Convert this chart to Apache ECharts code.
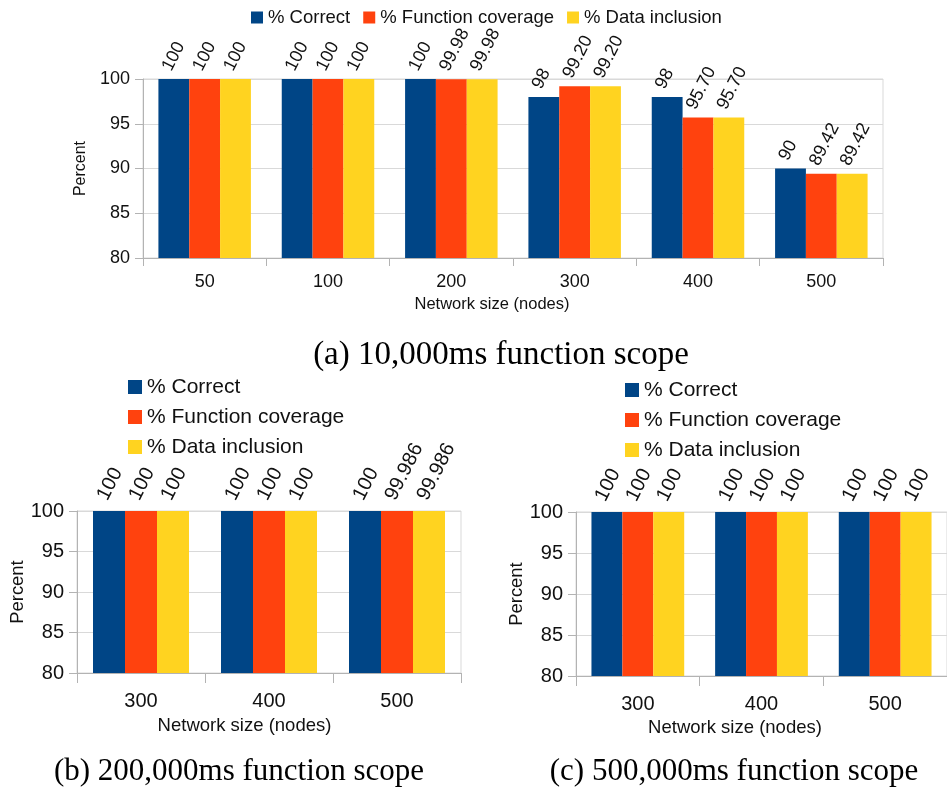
<!DOCTYPE html>
<html>
<head>
<meta charset="utf-8">
<style>
  html, body { margin: 0; padding: 0; background: #fff; }
  #chart { width: 947px; height: 787px; }
</style>
<script src="https://cdn.jsdelivr.net/npm/echarts@6/dist/echarts.min.js"></script>
</head>
<body>
<div id="chart"></div>
<script>
const seriesNames = ['% Correct', '% Function coverage', '% Data inclusion'];
const colors = ['#004586', '#ff420e', '#ffd320'];

// (a) 10,000ms function scope
const sizesA = ['50', '100', '200', '300', '400', '500'];
const correctA = ['100', '100', '100', '98', '98', '90'];
const coverageA = ['100', '100', '99.98', '99.20', '95.70', '89.42'];
const inclusionA = ['100', '100', '99.98', '99.20', '95.70', '89.42'];

// (b) 200,000ms function scope
const sizesB = ['300', '400', '500'];
const correctB = ['100', '100', '100'];
const coverageB = ['100', '100', '99.986'];
const inclusionB = ['100', '100', '99.986'];

// (c) 500,000ms function scope
const sizesC = ['300', '400', '500'];
const correctC = ['100', '100', '100'];
const coverageC = ['100', '100', '100'];
const inclusionC = ['100', '100', '100'];

const yMin = 80;
const yMax = 100;
const yStep = 5;

const captions = ['(a) 10,000ms function scope', '(b) 200,000ms function scope', '(c) 500,000ms function scope'];

// label offsets are in the rotated text frame (along text, across text)
const panels = [
  {
    grid: { left: 143, top: 79, width: 740, height: 179 },
    cats: sizesA, values: [correctA, coverageA, inclusionA],
    font: 18, nameFont: 16.5, labelMargin: 15, nameGap: 38, namePad: 42,
    yNameGap: 48, yNameFont: 16, tickLen: 8, labelOffset: [5, -10.4],
    legend: { left: 251, top: 7.5, orient: 'horizontal', fontSize: 18.5, icon: 12, lineHeight: 20, itemGap: 13 },
    caption: { x: 501, y: 355, size: 33 },
  },
  {
    grid: { left: 77, top: 511, width: 384, height: 162 },
    cats: sizesB, values: [correctB, coverageB, inclusionB],
    font: 20, nameFont: 18.5, labelMargin: 18, nameGap: 43, namePad: 49,
    yNameGap: 50, yNameFont: 18.4, tickLen: 10, labelOffset: [7.8, -11.4],
    legend: { left: 128, top: 372, orient: 'vertical', fontSize: 21, icon: 14, lineHeight: 30, itemGap: 0 },
    caption: { x: 239, y: 772, size: 31 },
  },
  {
    grid: { left: 576, top: 512, width: 384, height: 164 },
    cats: sizesC, values: [correctC, coverageC, inclusionC],
    font: 20, nameFont: 18.5, labelMargin: 18, nameGap: 42, namePad: 53,
    yNameGap: 50, yNameFont: 18.4, tickLen: 10, labelOffset: [7.8, -11.4],
    legend: { left: 625, top: 375, orient: 'vertical', fontSize: 21, icon: 14, lineHeight: 30, itemGap: 0 },
    caption: { x: 734, y: 772, size: 31 },
  },
];

const axisGray = '#b3b3b3';
const gridGray = '#d9d9d9';
const textColor = '#111';
const sans = '"Liberation Sans", Arial, sans-serif';

const option = {
  animation: false,
  backgroundColor: '#fff',
  textStyle: { fontFamily: sans, color: textColor },
  grid: [],
  xAxis: [],
  yAxis: [],
  legend: [],
  series: [],
  graphic: [],
};

panels.forEach((p, i) => {
  option.grid.push({
    ...p.grid,
    containLabel: false,
    show: true,
    borderColor: gridGray,
    borderWidth: 1,
  });

  option.xAxis.push({
    type: 'category',
    gridIndex: i,
    data: p.cats,
    name: 'Network size (nodes)',
    nameLocation: 'middle',
    nameGap: p.nameGap,
    nameTextStyle: { fontSize: p.nameFont, color: textColor, fontFamily: sans, padding: [0, p.namePad, 0, 0] },
    axisLine: { show: true, lineStyle: { color: axisGray, width: 1 } },
    axisTick: { show: true, length: p.tickLen, lineStyle: { color: axisGray } },
    axisLabel: { fontSize: p.font, color: textColor, margin: p.labelMargin, fontFamily: sans },
    splitLine: { show: false },
  });

  option.yAxis.push({
    type: 'value',
    gridIndex: i,
    min: yMin,
    max: yMax,
    interval: yStep,
    name: 'Percent',
    nameLocation: 'middle',
    nameGap: p.yNameGap,
    nameTextStyle: { fontSize: p.yNameFont, color: textColor, fontFamily: sans },
    axisLine: { show: true, lineStyle: { color: axisGray, width: 1 } },
    axisTick: { show: true, length: 8, lineStyle: { color: axisGray } },
    axisLabel: { fontSize: p.font, color: textColor, margin: 13, fontFamily: sans },
    splitLine: { show: true, lineStyle: { color: gridGray, width: 1 } },
  });

  option.legend.push({
    data: seriesNames.map((n) => ({ name: n, icon: 'rect' })),
    left: p.legend.left,
    top: p.legend.top,
    orient: p.legend.orient,
    padding: 0,
    itemGap: p.legend.itemGap,
    itemWidth: p.legend.icon,
    itemHeight: p.legend.icon,
    selectedMode: false,
    textStyle: { fontSize: p.legend.fontSize, color: textColor, fontFamily: sans, lineHeight: p.legend.lineHeight },
  });

  p.values.forEach((arr, s) => {
    option.series.push({
      type: 'bar',
      name: seriesNames[s],
      xAxisIndex: i,
      yAxisIndex: i,
      data: arr,
      barGap: '0%',
      barCategoryGap: '25%',
      itemStyle: { color: colors[s] },
      label: {
        show: true,
        position: 'top',
        distance: 0,
        rotate: 63,
        align: 'left',
        verticalAlign: 'middle',
        offset: p.labelOffset,
        fontSize: p.font,
        color: textColor,
        fontFamily: sans,
        formatter: (params) => arr[params.dataIndex],
      },
    });
  });

  option.graphic.push({
    type: 'text',
    x: p.caption.x,
    y: p.caption.y,
    style: {
      text: captions[i],
      fill: '#000',
      font: p.caption.size + 'px "Liberation Serif", "Times New Roman", serif',
      textAlign: 'center',
      textVerticalAlign: 'middle',
    },
  });
});

const chart = echarts.init(document.getElementById('chart'), null, { renderer: 'canvas' });
chart.setOption(option);
window.addEventListener('resize', () => chart.resize());
</script>
</body>
</html>
